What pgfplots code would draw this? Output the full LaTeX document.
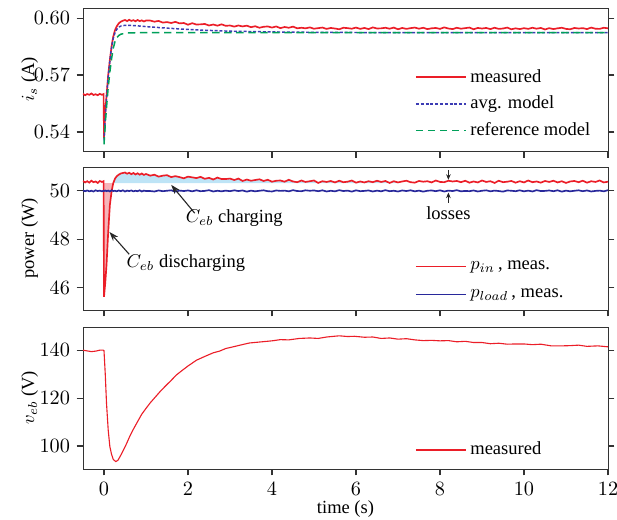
\documentclass[border=0pt]{standalone}
\usepackage{fontspec}
\setmainfont{Liberation Serif}
\usepackage{pgfplots}
\pgfplotsset{compat=1.18}
\usepackage{pgfplotstable}
\usepgfplotslibrary{fillbetween}
\usetikzlibrary{arrows.meta}

\definecolor{mred}{RGB}{235,30,40}
\definecolor{mblue}{RGB}{60,60,180}
\definecolor{mgreen}{RGB}{0,160,90}
\definecolor{mnavy}{RGB}{40,40,155}
\definecolor{fpink}{RGB}{246,180,185}
\definecolor{fblue}{RGB}{190,228,246}

\pgfplotstableread{
t is pin pl
-0.50 0.5601 50.41 50.012
-0.45 0.5594 50.35 49.988
-0.40 0.5600 50.40 50.018
-0.35 0.5596 50.34 49.982
-0.30 0.5603 50.42 50.006
-0.25 0.5595 50.36 49.976
-0.20 0.5599 50.39 50.024
-0.15 0.5594 50.33 49.994
-0.10 0.5601 50.41 50.012
-0.05 0.5596 50.37 49.982
-0.01 0.5600 50.40 50.006
0.00 0.5367 45.62 49.994
0.03 0.5500 46.20 50.018
0.06 0.5590 46.94 49.988
0.10 0.5700 48.30 50.012
0.14 0.5780 49.42 49.976
0.18 0.5850 49.97 50.024
0.22 0.5902 50.32 49.994
0.26 0.5935 50.50 50.006
0.30 0.5955 50.60 49.982
0.35 0.5972 50.67 50.018
0.40 0.5981 50.72 49.988
0.45 0.5986 50.74 50.024
0.50 0.5990 50.76 49.976
0.55 0.5984 50.71 50.012
0.60 0.5991 50.75 49.994
0.65 0.5985 50.69 50.018
0.70 0.5989 50.74 49.982
0.75 0.5983 50.68 50.006
0.80 0.5990 50.73 49.988
0.85 0.5984 50.67 50.024
0.90 0.5988 50.72 49.976
0.95 0.5982 50.66 50.012
1.00 0.5987 50.70 49.994
1.1 0.5987 50.63 49.994
1.2 0.5981 50.67 49.976
1.3 0.5985 50.59 50.018
1.4 0.5976 50.63 49.988
1.5 0.5979 50.65 50.006
1.6 0.5974 50.57 50.024
1.7 0.5980 50.61 49.970
1.8 0.5972 50.57 50.012
1.9 0.5974 50.52 49.994
2.0 0.5965 50.59 50.018
2.1 0.5973 50.56 49.982
2.2 0.5966 50.53 50.024
2.3 0.5967 50.58 49.988
2.4 0.5969 50.50 50.000
2.5 0.5961 50.54 50.030
2.6 0.5966 50.47 49.976
2.7 0.5960 50.55 50.006
2.8 0.5967 50.49 49.982
2.9 0.5959 50.49 50.012
3.0 0.5961 50.51 49.988
3.1 0.5955 50.45 50.024
3.2 0.5961 50.51 49.994
3.3 0.5956 50.41 50.018
3.4 0.5960 50.47 49.970
3.5 0.5952 50.42 50.012
3.6 0.5957 50.45 49.982
3.7 0.5949 50.48 50.006
3.8 0.5954 50.41 50.024
3.9 0.5956 50.46 49.988
4.0 0.5950 50.38 49.976
4.1 0.5956 50.42 50.018
4.2 0.5947 50.43 50.000
4.3 0.5953 50.38 50.012
4.4 0.5949 50.46 49.982
4.5 0.5955 50.39 50.030
4.6 0.5946 50.36 49.994
4.7 0.5949 50.43 49.988
4.8 0.5946 50.37 50.024
4.9 0.5951 50.40 50.006
5.0 0.5944 50.43 50.018
5.1 0.5947 50.33 49.988
5.2 0.5950 50.40 50.024
5.3 0.5943 50.37 49.976
5.4 0.5948 50.41 50.006
5.5 0.5945 50.35 49.982
5.6 0.5941 50.42 50.030
5.7 0.5949 50.36 49.994
5.8 0.5947 50.38 50.012
5.9 0.5944 50.43 49.970
6.0 0.5950 50.34 50.024
6.1 0.5943 50.39 49.988
6.2 0.5948 50.35 50.000
6.3 0.5942 50.40 50.018
6.4 0.5951 50.36 49.976
6.5 0.5945 50.42 50.012
6.6 0.5946 50.37 49.982
6.7 0.5949 50.41 50.030
6.8 0.5944 50.33 49.988
6.9 0.5950 50.40 50.006
7.0 0.5941 50.35 49.976
7.1 0.5948 50.39 50.018
7.2 0.5943 50.42 49.994
7.3 0.5947 50.36 50.024
7.4 0.5950 50.34 49.982
7.5 0.5944 50.41 50.012
7.6 0.5949 50.38 49.970
7.7 0.5942 50.40 50.006
7.8 0.5946 50.35 50.018
7.9 0.5948 50.43 49.988
8.0 0.5943 50.37 50.024
8.1 0.5951 50.36 49.976
8.2 0.5945 50.42 50.012
8.3 0.5942 50.39 49.994
8.4 0.5949 50.41 50.030
8.5 0.5944 50.36 49.982
8.6 0.5947 50.42 50.000
8.7 0.5950 50.34 49.988
8.8 0.5941 50.39 50.018
8.9 0.5948 50.35 49.976
9.0 0.5945 50.43 50.006
9.1 0.5948 50.37 50.024
9.2 0.5942 50.40 49.982
9.3 0.5949 50.33 50.012
9.4 0.5943 50.42 49.994
9.5 0.5945 50.36 49.970
9.6 0.5950 50.38 50.018
9.7 0.5941 50.41 50.006
9.8 0.5946 50.34 49.988
9.9 0.5942 50.40 50.024
10.0 0.5947 50.35 49.982
10.1 0.5943 50.43 50.012
10.2 0.5949 50.36 49.976
10.3 0.5944 50.39 50.030
10.4 0.5948 50.34 49.994
10.5 0.5940 50.41 50.000
10.6 0.5947 50.37 50.018
10.7 0.5942 50.42 49.988
10.8 0.5946 50.35 50.024
10.9 0.5949 50.40 49.970
11.0 0.5943 50.33 50.012
11.1 0.5941 50.39 49.982
11.2 0.5948 50.41 50.006
11.3 0.5945 50.36 50.024
11.4 0.5947 50.42 49.988
11.5 0.5942 50.34 50.018
11.6 0.5950 50.40 49.976
11.7 0.5944 50.37 50.000
11.8 0.5943 50.43 50.012
11.9 0.5949 50.35 49.982
12.0 0.5946 50.38 50.030
}\tabA

\pgfplotstableread{
t avg
0.00 0.5355
0.03 0.5480
0.06 0.5580
0.10 0.5690
0.14 0.5775
0.18 0.5845
0.22 0.5893
0.26 0.5922
0.30 0.5940
0.35 0.5952
0.40 0.5958
0.50 0.5962
0.60 0.5962
0.80 0.5959
1.00 0.5955
1.50 0.5947
2.00 0.5940
2.50 0.5935
3.00 0.5931
4.00 0.5927
5.00 0.5925
6.00 0.5924
8.00 0.5923
12.00 0.5923
}\tabAvg

\pgfplotstableread{
t ref
0.00 0.5335
0.03 0.5440
0.06 0.5530
0.10 0.5635
0.14 0.5717
0.18 0.5785
0.22 0.5840
0.26 0.5875
0.30 0.5895
0.35 0.5908
0.40 0.5915
0.50 0.5920
0.60 0.5922
0.80 0.5923
12.00 0.5923
}\tabRef

\pgfplotstableread{
t v
-0.5 140.0
-0.4 139.7
-0.3 139.4
-0.2 139.6
-0.1 140.0
-0.02 140.0
0.00 139.8
0.03 130.0
0.06 117.8
0.10 106.7
0.14 99.7
0.18 96.5
0.22 94.4
0.28 93.5
0.33 94.0
0.38 95.5
0.46 98.2
0.54 101.1
0.62 104.3
0.69 106.7
0.80 110.2
0.90 113.3
1.00 115.7
1.10 118.0
1.20 120.0
1.33 122.6
1.45 124.8
1.60 127.4
1.72 129.6
1.85 131.4
2.00 133.4
2.20 135.8
2.40 137.4
2.60 138.9
2.75 139.6
2.90 140.7
3.05 141.3
3.24 142.1
3.46 143.0
3.70 143.4
4.00 143.9
4.20 144.4
4.40 144.3
4.65 144.9
4.90 145.1
5.10 144.9
5.30 145.5
5.60 146.0
5.80 145.7
5.96 145.8
6.20 145.4
6.40 145.5
6.60 144.9
6.80 145.1
7.00 144.6
7.20 144.8
7.40 144.3
7.60 144.0
7.80 144.1
8.00 143.9
8.20 144.0
8.40 143.5
8.60 143.7
8.80 143.2
9.00 143.2
9.20 142.7
9.40 142.9
9.60 142.5
9.80 142.6
10.00 142.6
10.20 142.3
10.40 142.5
10.65 141.8
10.90 141.8
11.10 141.9
11.30 142.1
11.50 141.6
11.76 141.8
12.00 141.4
}\tabV

\pgfplotsset{
  panel/.style={
    scale only axis, width=283.5pt,
    xmin=-0.5, xmax=12, xtick={0,2,...,12},
    tick align=outside, xtick pos=bottom, ytick pos=both, yticklabel pos=left,
    major tick length=3.5pt,
    axis line style={black!80}, tick style={black!80, semithick},
    tick label style={font=\fontsize{11}{13}\selectfont},
    every axis y label/.style={at={(axis description cs:0,0.5)}, anchor=south, rotate=90, inner sep=0pt, yshift=24pt},
    every axis x label/.style={at={(axis description cs:0.5,0)}, anchor=base, inner sep=0pt, yshift=-24.3pt},
    legend cell align=left,
    legend style={draw=none, fill=none, inner sep=0pt, font=\normalsize, row sep=2pt},
    legend image code/.code={\draw[##1, line width=0.8pt] (0pt,0pt) -- (27pt,0pt);},
  }
}

\begin{document}
\begin{tikzpicture}
% Panel 1
\begin{axis}[panel, at={(0pt,171.7pt)}, height=77.2pt,
  ymin=0.5300, ymax=0.60526, ytick={0.54,0.57,0.60},
  yticklabel style={/pgf/number format/.cd, fixed, fixed zerofill, precision=2},
  xticklabels={},
  ylabel={$i_s$ (A)},
  legend style={at={(axis description cs:0.632,0.33)}, anchor=west}]
\addplot[mred, line width=0.9pt] table[x=t,y=is]{\tabA};
\addlegendentry{measured}
\addplot[mblue, line width=0.8pt, dash pattern=on 1.6pt off 1pt] table[x=t,y=avg]{\tabAvg};
\addlegendentry{avg. model}
\addplot[mgreen, line width=0.8pt, dash pattern=on 4pt off 2.5pt] table[x=t,y=ref]{\tabRef};
\addlegendentry{reference model}
\end{axis}

% Panel 2
\begin{axis}[panel, at={(0pt,85.9pt)}, height=77.2pt,
  ymin=45.08, ymax=50.99, ytick={46,48,50},
  xticklabels={},
  ylabel={power (W)},
  legend style={at={(axis description cs:0.632,0.205)}, anchor=west, row sep=5pt}]
\addplot[draw=none, name path=pin, forget plot] table[x=t,y=pin]{\tabA};
\addplot[draw=none, name path=base, forget plot] coordinates {(-0.5,50.32) (12,50.32)};
\addplot[fpink, forget plot] fill between[of=pin and base, soft clip={domain=0:0.215}];
\addplot[fblue, forget plot] fill between[of=pin and base, soft clip={domain=0.215:7}];
\addplot[mred, line width=0.9pt] table[x=t,y=pin]{\tabA};
\addlegendentry{$p_{in}$\,, meas.}
\addplot[mnavy, line width=0.9pt] table[x=t,y=pl]{\tabA};
\addlegendentry{$p_{load}$\,, meas.}
\draw[black!85, semithick, -{Stealth[length=5pt,width=3.5pt]}] (axis cs:2.16,49.08) -- (axis cs:1.6,50.25);
\draw[black!85, semithick, -{Stealth[length=5pt,width=3.5pt]}] (axis cs:0.6,47.38) -- (axis cs:0.13,48.3);
\node at (axis cs:3.1,48.88) {$C_{eb}$ charging};
\node at (axis cs:1.95,47.0) {$C_{eb}$ discharging};
\draw[black!85, thin, -{Stealth[length=3pt,width=2.5pt]}] (axis cs:8.2,50.87) -- (axis cs:8.2,50.46);
\draw[black!85, thin, -{Stealth[length=3pt,width=2.5pt]}] (axis cs:8.2,49.52) -- (axis cs:8.2,49.93);
\node at (axis cs:8.2,49.07) {losses};
\end{axis}

% Panel 3
\begin{axis}[panel, at={(0pt,0pt)}, height=76.7pt,
  ymin=90.4, ymax=149.7, ytick={100,120,140},
  xlabel={time (s)},
  ylabel={$v_{eb}$ (V)},
  legend style={at={(axis description cs:0.632,0.135)}, anchor=west}]
\addplot[mred, line width=0.6pt] table[x=t,y=v]{\tabV};
\addlegendentry{measured}
\end{axis}
\pgfresetboundingbox
\path (-44.82pt,-27.54pt) rectangle (288.36pt,253.26pt);
\end{tikzpicture}
\end{document}
